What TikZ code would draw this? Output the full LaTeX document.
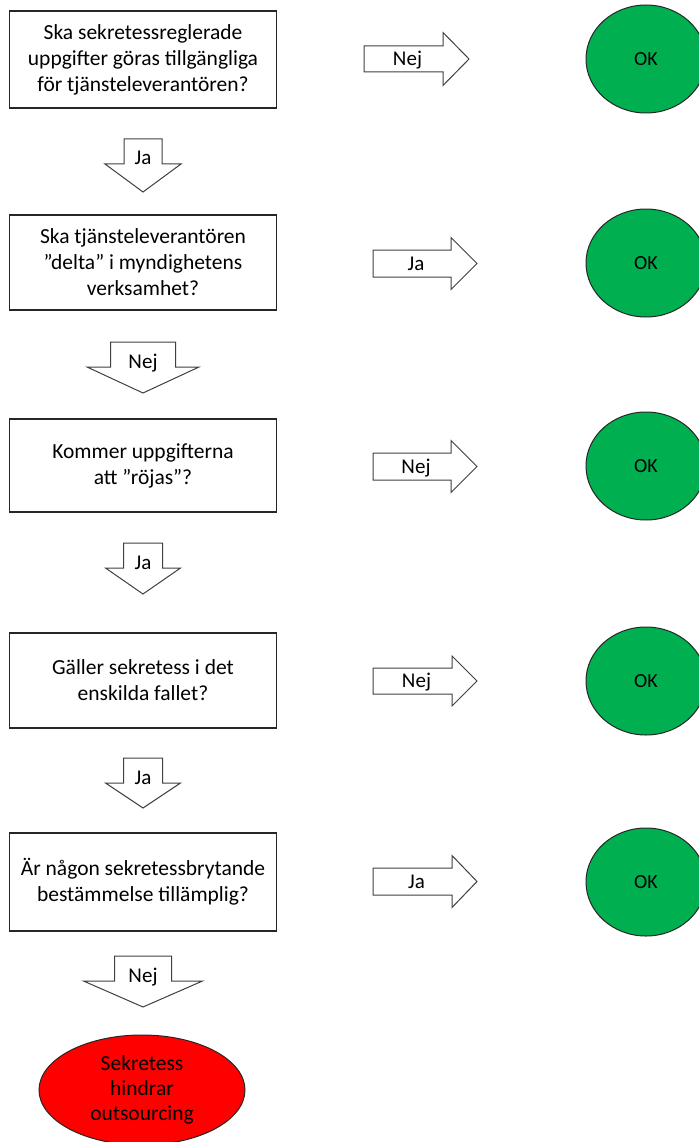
\documentclass[tikz,border=0pt]{standalone}
\usepackage{fontspec}
\setmainfont{Carlito}
\usetikzlibrary{shapes.geometric}
\definecolor{okgreen}{HTML}{00B050}
\definecolor{stopred}{HTML}{FF0000}
\tikzset{
  question/.style={draw=black!85, line width=1.3pt, fill=white, minimum width=267pt,
    align=center, inner sep=0pt, font=\fontsize{21.5}{26}\selectfont},
  okstate/.style={ellipse, draw=black!85, line width=1pt, fill=okgreen,
    minimum width=120pt, minimum height=108pt, inner sep=0pt, font=\fontsize{20}{24}\selectfont},
  stopstate/.style={ellipse, draw=black!85, line width=1pt, fill=stopred,
    minimum width=206pt, minimum height=110pt, align=center, inner sep=0pt,
    font=\fontsize{21.5}{25}\selectfont},
  blockarrow/.style={draw=black!75, line width=1pt, fill=white, line join=miter},
  arrowlabel/.style={anchor=base, inner sep=0pt, font=\fontsize{21}{25}\selectfont},
}
% downward block arrow: name, centre x, shaft half width, head half width, top, shoulder, tip, label
\newcommand\flowdown[8]{%
  \draw[blockarrow] ({#2-#3},#5) -- ({#2+#3},#5) -- ({#2+#3},#6) -- ({#2+#4},#6)
    -- (#2,#7) -- ({#2-#4},#6) -- ({#2-#3},#6) -- cycle;
  \node[arrowlabel] (#1) at (#2,{#6+1}) {#8};
}
% rightward block arrow: name, centre y, left, shoulder, tip, shaft half height, head half height, label
\newcommand\flowright[8]{%
  \draw[blockarrow] (#3,{#2-#6}) -- (#4,{#2-#6}) -- (#4,{#2-#7}) -- (#5,#2)
    -- (#4,{#2+#7}) -- (#4,{#2+#6}) -- (#3,{#2+#6}) -- cycle;
  \node[arrowlabel] (#1) at ({(#3+#4)/2+4},{#2+6.5}) {#8};
}
\begin{document}
\begin{tikzpicture}[x=1pt, y=-1pt]
  \useasboundingbox (0,0) rectangle (699,1142);
  \clip (0,0) rectangle (699,1142);
  \fill[white] (0,0) rectangle (699,1142);

  % questions
  \node[question, minimum height=97pt] (q1) at (143,59.5)
    {Ska sekretessreglerade\\uppgifter göras tillgängliga\\för tjänsteleverantören?};
  \node[question, minimum height=95pt] (q2) at (143,262.5)
    {Ska tjänsteleverantören\\”delta” i myndighetens\\verksamhet?};
  \node[question, minimum height=93pt] (q3) at (143,465.5)
    {Kommer uppgifterna\\att ”röjas”?};
  \node[question, minimum height=95pt] (q4) at (143,680.5)
    {Gäller sekretess i det\\enskilda fallet?};
  \node[question, minimum height=98pt] (q5) at (143,882)
    {Är någon sekretessbrytande\\bestämmelse tillämplig?};

  % outcomes
  \node[okstate] (ok1) at (646,59) {OK};
  \node[okstate] (ok2) at (646,263) {OK};
  \node[okstate] (ok3) at (646,466) {OK};
  \node[okstate] (ok4) at (646,681) {OK};
  \node[okstate] (ok5) at (646,882) {OK};
  \node[stopstate] (stop) at (142,1090) {Sekretess\\hindrar\\outsourcing};

  % answers leading down the chain
  \flowdown{d1}{143}{19}{38}{139}{164}{192}{Ja}
  \flowdown{d2}{143}{32.5}{56}{342}{367}{393}{Nej}
  \flowdown{d3}{143}{19.5}{37.5}{543}{568}{594}{Ja}
  \flowdown{d4}{143}{19.5}{37.5}{758}{783}{808}{Ja}
  \flowdown{d5}{143}{28.5}{59.5}{956}{981}{1007}{Nej}

  % answers leading to OK
  \flowright{r1}{59}{364}{443}{469}{13}{26.5}{Nej}
  \flowright{r2}{263.5}{373}{451}{477}{13.5}{26}{Ja}
  \flowright{r3}{466.5}{373}{451}{477}{13.5}{26}{Nej}
  \flowright{r4}{681}{373}{452}{477}{13}{25}{Nej}
  \flowright{r5}{881.5}{373}{452}{477}{13.5}{26}{Ja}
\end{tikzpicture}
\end{document}
